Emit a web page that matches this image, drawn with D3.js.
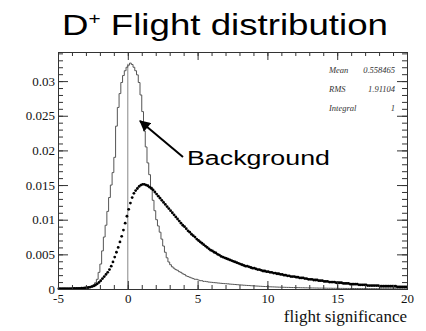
<!DOCTYPE html>
<html>
<head>
<meta charset="utf-8">
<script src="https://cdn.jsdelivr.net/npm/d3@7"></script>
<style>
  body { margin: 0; background: #fff; }
  svg { display: block; }
</style>
</head>
<body>
<svg width="426" height="331"></svg>
<script>
// histogram binning: 200 bins of 0.125 from -5 to 20
const binLo = -5, binWidth = 0.125;

// background (histogram, line), 8 bins per unit
const background = [
  0.00001, 0.00002, 0.00002, 0.00002, 0.00002, 0.00003, 0.00003, 0.00003,
  0.00004, 0.00004, 0.00005, 0.00006, 0.00008, 0.00009, 0.00011, 0.00014,
  0.00018, 0.00024, 0.00032, 0.00045, 0.0006, 0.0009, 0.0014, 0.0024,
  0.0036, 0.0055, 0.0075, 0.0092, 0.0112, 0.0132, 0.0150, 0.0168,
  0.0190, 0.0235, 0.0262, 0.0282, 0.0298, 0.0308, 0.0315, 0.0320,
  0.0323, 0.0326, 0.0324, 0.0320, 0.0315, 0.0309, 0.0298, 0.0280,
  0.0256, 0.0228, 0.0205, 0.0182, 0.0165, 0.0147, 0.0128, 0.0113,
  0.0100, 0.0091, 0.0082, 0.0072, 0.0062, 0.0053, 0.0045, 0.0039,
  0.0035, 0.0032, 0.0030, 0.0028, 0.0027, 0.0025, 0.0024, 0.0022,
  0.0021, 0.0019, 0.0018, 0.0017, 0.0016, 0.0015, 0.0014, 0.0014,
  0.0013, 0.0012, 0.0012, 0.0011, 0.0011, 0.00105, 0.0010, 0.00098,
  0.00095, 0.00092, 0.0009, 0.00087, 0.00085, 0.00082, 0.0008, 0.00078,
  0.00076, 0.00074, 0.00071, 0.00069, 0.00067, 0.00065, 0.00063, 0.00061,
  0.00059, 0.00057, 0.00055, 0.00053, 0.00051, 0.0005, 0.00048, 0.00046,
  0.00045, 0.00043, 0.00042, 0.0004, 0.00039, 0.00037, 0.00036, 0.00035,
  0.00033, 0.00032, 0.00031, 0.0003, 0.00029, 0.00028, 0.00027, 0.00026,
  0.00026, 0.00025, 0.00024, 0.00023, 0.00023, 0.00022, 0.00021, 0.00021,
  0.0002, 0.0002, 0.00019, 0.00018, 0.00018, 0.00017, 0.00017, 0.00016,
  0.00016, 0.00015, 0.00015, 0.00014, 0.00014, 0.00013, 0.00013, 0.00013,
  0.00012, 0.00012, 0.00011, 0.00011, 0.00011, 0.0001, 0.0001, 0.0001,
  0.00009, 0.00009, 0.00009, 0.00009, 0.00008, 0.00008, 0.00008, 0.00008,
  0.00007, 0.00007, 0.00007, 0.00007, 0.00006, 0.00006, 0.00006, 0.00006,
  0.00006, 0.00005, 0.00005, 0.00005, 0.00005, 0.00005, 0.00005, 0.00004,
  0.00004, 0.00004, 0.00004, 0.00004, 0.00004, 0.00004, 0.00004, 0.00004,
  0.00004, 0.00004, 0.00003, 0.00003, 0.00003, 0.00003, 0.00003, 0.00003
];

// signal (markers), 8 points per unit
const signal = [
  0.00004, 0.00004, 0.00005, 0.00005, 0.00005, 0.00005, 0.00006, 0.00006,
  0.00007, 0.00007, 0.00008, 0.00009, 0.0001, 0.00011, 0.00013, 0.00015,
  0.00018, 0.00022, 0.00028, 0.00035, 0.00045, 0.00058, 0.00075, 0.00095,
  0.0012, 0.0015, 0.0018, 0.0021, 0.0024, 0.0028, 0.0033, 0.0039,
  0.0046, 0.0053, 0.0060, 0.0068, 0.0076, 0.0085, 0.0095, 0.0105,
  0.0115, 0.0124, 0.0132, 0.0138, 0.0142, 0.0145, 0.0148, 0.0150,
  0.0151, 0.0151, 0.0150, 0.0149, 0.0147, 0.0145, 0.0143, 0.0140,
  0.0137, 0.0134, 0.0131, 0.0128, 0.0125, 0.0122, 0.0119, 0.0116,
  0.0113, 0.0110, 0.0107, 0.0104, 0.0101, 0.0098, 0.0095, 0.0092,
  0.0090, 0.0087, 0.0084, 0.0082, 0.0079, 0.0077, 0.0075, 0.0072,
  0.0070, 0.0068, 0.0066, 0.0064, 0.0062, 0.0060, 0.0058, 0.0056,
  0.0055, 0.0053, 0.0052, 0.0050, 0.0049, 0.0047, 0.0046, 0.0045,
  0.0044, 0.0043, 0.0042, 0.0041, 0.0040, 0.0039, 0.0038, 0.0037,
  0.0036, 0.0035, 0.0034, 0.0033, 0.0033, 0.0032, 0.0031, 0.0030,
  0.0030, 0.0029, 0.0028, 0.0028, 0.0027, 0.0026, 0.0026, 0.0025,
  0.0025, 0.0024, 0.0024, 0.0023, 0.0023, 0.0022, 0.0022, 0.0021,
  0.0021, 0.0020, 0.0020, 0.0019, 0.0019, 0.0018, 0.0018, 0.0018,
  0.0017, 0.0017, 0.0016, 0.0016, 0.0016, 0.0015, 0.0015, 0.0014,
  0.0014, 0.0014, 0.0013, 0.0013, 0.0013, 0.0012, 0.0012, 0.0012,
  0.0011, 0.0011, 0.0011, 0.0010, 0.0010, 0.0010, 0.0010, 0.0009,
  0.0009, 0.0009, 0.0009, 0.0008, 0.0008, 0.0008, 0.0008, 0.0007,
  0.0007, 0.0007, 0.0007, 0.0007, 0.0006, 0.0006, 0.0006, 0.0006,
  0.0006, 0.0005, 0.0005, 0.0005, 0.0005, 0.0005, 0.0005, 0.0005,
  0.0004, 0.0004, 0.0004, 0.0004, 0.0004, 0.0004, 0.0004, 0.0004,
  0.0004, 0.0004, 0.0003, 0.0003, 0.0003, 0.0003, 0.0003, 0.0003
];

const xTicks = [-5, 0, 5, 10, 15, 20];
const yTicks = [0, 0.005, 0.01, 0.015, 0.02, 0.025, 0.03];
const statNames = ["Mean", "RMS", "Integral"];
const statValues = ["0.558465", "1.91104", "1"];

const svg = d3.select("svg");

const x = d3.scaleLinear().domain([-5, 20]).range([58, 407]);
const y = d3.scaleLinear().domain([0, 0.0342]).range([289, 52]);

const serif = "'Liberation Serif', 'Times New Roman', serif";
const sans = "'Liberation Sans', Arial, sans-serif";

// title
const title = svg.append("text")
    .style("font-family", sans)
    .attr("font-size", 30)
    .attr("fill", "#000");
title.append("tspan").text("D");
title.append("tspan").attr("font-size", 17).attr("dy", -11).text("+");
title.append("tspan").attr("dy", 11).text(" Flight distribution");
const tw = title.node().getComputedTextLength();
title.attr("transform", `translate(62,35) scale(${326 / tw},1)`);

// zero line
svg.append("line")
    .attr("x1", x(0)).attr("x2", x(0))
    .attr("y1", y(0.0325)).attr("y2", y(0))
    .attr("stroke", "#888").attr("stroke-width", 1);

// background histogram as steps
const steps = background.flatMap((v, i) => [
  [binLo + i * binWidth, v], [binLo + (i + 1) * binWidth, v]
]);
svg.append("path")
    .datum(steps)
    .attr("fill", "none")
    .attr("stroke", "#555")
    .attr("stroke-width", 1)
    .attr("d", d3.line().x(d => x(d[0])).y(d => y(d[1])));

// signal markers
svg.append("g")
    .selectAll("circle")
    .data(signal)
    .join("circle")
    .attr("cx", (d, i) => x(binLo + (i + 0.5) * binWidth))
    .attr("cy", d => y(d))
    .attr("r", 1.4)
    .attr("fill", "#000");

// axes, ticks inside
function styleAxis(g) {
  g.attr("font-family", null).attr("font-size", null);
  g.selectAll("path.domain").attr("stroke", "#333");
  g.selectAll(".tick line").attr("stroke", "#333");
  g.selectAll("text")
      .style("font-family", serif)
      .style("font-size", "13px")
      .attr("fill", "#111");
}

const minorX = d3.range(-5, 20.01, 1);
const minorY = d3.range(0, 0.0342, 0.001);

svg.append("g").attr("transform", "translate(0,289)")
    .call(d3.axisBottom(x).tickValues(minorX).tickSize(-4).tickFormat(""))
    .call(styleAxis);
svg.append("g").attr("transform", "translate(0,289)")
    .call(d3.axisBottom(x).tickValues(xTicks).tickSize(-8).tickPadding(5).tickFormat(d => String(d)))
    .call(styleAxis);
svg.append("g").attr("transform", "translate(0,52)")
    .call(d3.axisTop(x).tickValues(minorX).tickSize(-4).tickFormat(""))
    .call(styleAxis);
svg.append("g").attr("transform", "translate(0,52)")
    .call(d3.axisTop(x).tickValues(xTicks).tickSize(-8).tickFormat(""))
    .call(styleAxis);

svg.append("g").attr("transform", "translate(58,-1)")
    .call(d3.axisLeft(y).tickValues(minorY).tickSize(-5).tickFormat(""))
    .call(styleAxis)
    .attr("transform", "translate(58,0)");
svg.append("g").attr("transform", "translate(58,0)")
    .call(d3.axisLeft(y).tickValues(yTicks).tickSize(-10).tickPadding(3).tickFormat(d => String(d)))
    .call(styleAxis);
svg.append("g").attr("transform", "translate(407,0)")
    .call(d3.axisRight(y).tickValues(minorY).tickSize(-5).tickFormat(""))
    .call(styleAxis);
svg.append("g").attr("transform", "translate(407,0)")
    .call(d3.axisRight(y).tickValues(yTicks).tickSize(-10).tickFormat(""))
    .call(styleAxis);

// x axis title
svg.append("text")
    .attr("x", 407).attr("y", 322)
    .attr("text-anchor", "end")
    .style("font-family", serif)
    .attr("font-size", 17)
    .attr("fill", "#111")
    .text("flight significance");

// stats box
const stats = svg.append("g")
    .style("font-family", serif)
    .attr("font-style", "italic")
    .attr("font-size", 8.5)
    .attr("fill", "#333");
statNames.forEach((n, i) => {
  stats.append("text").attr("x", 329).attr("y", 73 + i * 19).text(n);
  stats.append("text").attr("x", 395).attr("y", 73 + i * 19)
      .attr("text-anchor", "end").text(statValues[i]);
});

// annotation
svg.append("defs").append("marker")
    .attr("id", "head")
    .attr("viewBox", "0 0 10 10")
    .attr("refX", 9).attr("refY", 5)
    .attr("markerWidth", 6).attr("markerHeight", 5.5)
    .attr("markerUnits", "strokeWidth")
    .attr("orient", "auto")
  .append("path")
    .attr("d", "M0,0L10,5L0,10Z")
    .attr("fill", "#000");

svg.append("line")
    .attr("x1", 183).attr("y1", 157)
    .attr("x2", 140).attr("y2", 121)
    .attr("stroke", "#000").attr("stroke-width", 2)
    .attr("marker-end", "url(#head)");

const bg = svg.append("text")
    .style("font-family", sans)
    .attr("font-size", 21)
    .attr("fill", "#000")
    .text("Background");
const bw = bg.node().getComputedTextLength();
bg.attr("transform", `translate(187,165) scale(${143 / bw},1)`);
</script>
</body>
</html>
